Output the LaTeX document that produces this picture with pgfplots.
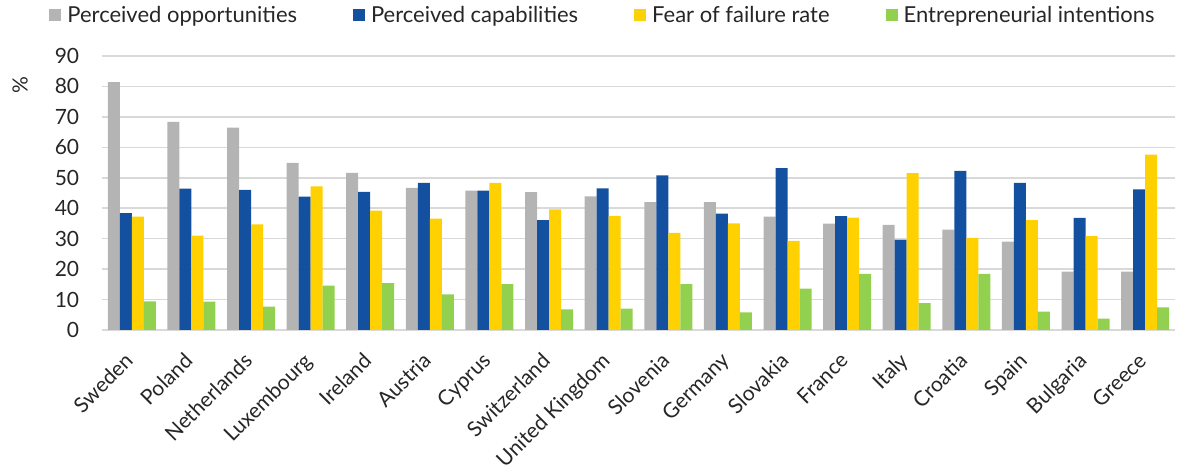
\documentclass[border=0pt]{standalone}
\usepackage{pgfplots}
\pgfplotsset{compat=1.18}
\usepackage{fontspec}
\setmainfont{Lato}
\definecolor{cgray}{HTML}{B4B4B4}
\definecolor{cblue}{HTML}{1351A0}
\definecolor{cyellow}{HTML}{FFD100}
\definecolor{cgreen}{HTML}{92D050}
\definecolor{cgrid}{HTML}{D9D9D9}
\definecolor{ctext}{HTML}{262626}
\begin{document}
\fontsize{20}{24}\selectfont
\begin{tikzpicture}
\begin{axis}[
  scale only axis, width=1073pt, height=274pt,
  ybar=0pt, bar width=12pt,
  xmin=-0.5, xmax=17.5, ymin=0, ymax=90,
  xtick={0,...,17},
  xticklabels={Sweden,Poland,Netherlands,Luxembourg,Ireland,Austria,Cyprus,Switzerland,United Kingdom,Slovenia,Germany,Slovakia,France,Italy,Croatia,Spain,Bulgaria,Greece},
  ytick={0,10,...,90},
  axis line style={draw=none},
  ymajorgrids, grid style={cgrid, line width=1.5pt},
  major tick length=0pt,
  tick label style={font=\fontsize{21}{24}\selectfont, text=ctext},
  xticklabel style={rotate=45, anchor=north east, inner sep=1pt, xshift=-20pt, yshift=-8pt},
  yticklabel style={xshift=-16pt},
  /pgf/number format/assume math mode=true,
  ylabel={\%}, ylabel style={at={(axis description cs:-0.0764,0.894)}, anchor=center, rotate=0, font=\fontsize{21}{24}\selectfont, text=ctext},
  legend style={at={(0.467,1.095)}, anchor=south, draw=none, fill=none, legend columns=4,
    font=\fontsize{22}{24}\selectfont, text=ctext,
    /tikz/every odd column/.append style={column sep=4pt},
    /tikz/every even column/.append style={column sep=54pt}},
  legend image code/.code={\fill[#1] (0pt,-5pt) rectangle (12pt,7pt);},
]
\addplot[fill=cgray, draw=none] coordinates {(0,81.4) (1,68.4) (2,66.5) (3,54.9) (4,51.6) (5,46.7) (6,45.8) (7,45.3) (8,43.9) (9,42.0) (10,42.0) (11,37.2) (12,34.9) (13,34.5) (14,33.0) (15,29.0) (16,19.2) (17,19.2)};
\addplot[fill=cblue, draw=none] coordinates {(0,38.4) (1,46.4) (2,46.0) (3,43.8) (4,45.4) (5,48.3) (6,45.8) (7,36.1) (8,46.5) (9,50.8) (10,38.2) (11,53.2) (12,37.4) (13,29.7) (14,52.3) (15,48.3) (16,36.8) (17,46.2)};
\addplot[fill=cyellow, draw=none] coordinates {(0,37.2) (1,31.0) (2,34.7) (3,47.2) (4,39.2) (5,36.6) (6,48.3) (7,39.6) (8,37.5) (9,31.9) (10,35.0) (11,29.3) (12,36.9) (13,51.5) (14,30.3) (15,36.1) (16,30.8) (17,57.6)};
\addplot[fill=cgreen, draw=none] coordinates {(0,9.4) (1,9.3) (2,7.7) (3,14.6) (4,15.4) (5,11.7) (6,15.1) (7,6.8) (8,7.0) (9,15.1) (10,5.8) (11,13.6) (12,18.4) (13,8.8) (14,18.4) (15,6.0) (16,3.7) (17,7.4)};
\legend{Perceived opportunities, Perceived capabilities, Fear of failure rate, Entrepreneurial intentions}
\end{axis}
\pgfresetboundingbox
\path (current axis.south west) ++(-102pt,-143pt) rectangle ++(1192pt,473pt);
\end{tikzpicture}
\end{document}
